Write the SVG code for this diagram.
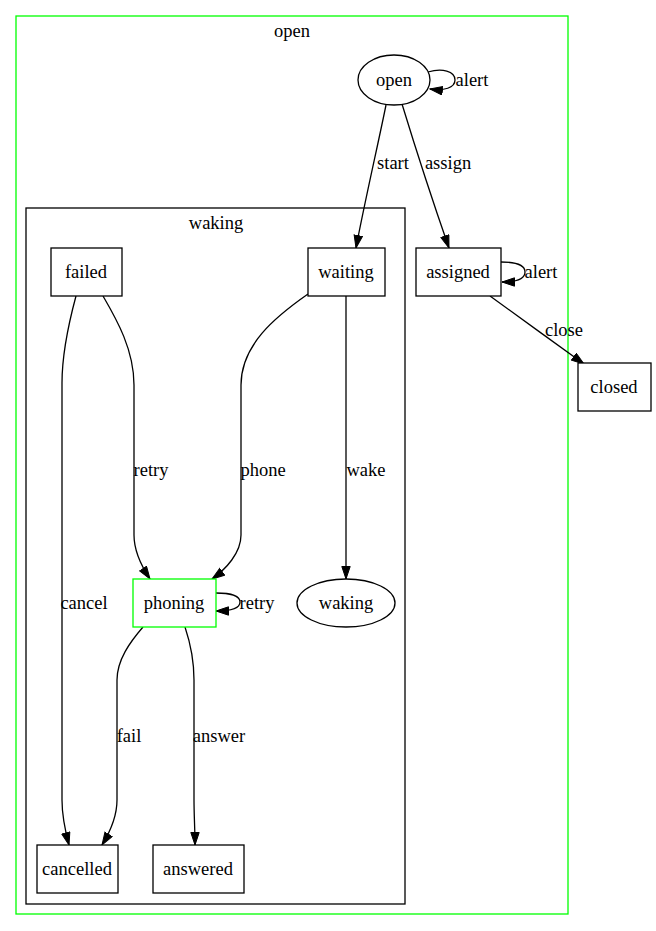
<svg xmlns="http://www.w3.org/2000/svg" width="656" height="931" viewBox="0 0 656 931">
<style>
text{font-family:"Liberation Serif","Times New Roman",serif;font-size:18.5px;fill:#000;text-anchor:middle}
.n{fill:#fff;stroke:#000;stroke-width:1.3}
.g{fill:#fff;stroke:#00ff00;stroke-width:1.3}
.e{fill:none;stroke:#000;stroke-width:1.3}
</style>
<defs>
<marker id="a" markerUnits="userSpaceOnUse" markerWidth="14" markerHeight="10" refX="13" refY="4.7" orient="auto">
<path d="M0.5,0.5 L13,4.7 L0.5,8.9 z" fill="#000" stroke="#000" stroke-width="1"/>
</marker>
</defs>
<rect width="656" height="931" fill="#fff"/>
<g id="cluster-open">
<rect x="16" y="16" width="552" height="898" fill="none" stroke="#00ff00" stroke-width="1.3"/>
<text x="292" y="37">open</text>
</g>
<g id="cluster-waking">
<rect x="26" y="208" width="379" height="696" fill="none" stroke="#000" stroke-width="1.3"/>
<text x="216" y="229">waking</text>
</g>
<g id="edges">
<path class="e" marker-end="url(#a)" d="M428,72 C442,68 455,71 455,80 C455,88 444,91 430,89"/>
<text x="472" y="86">alert</text>
<path class="e" marker-end="url(#a)" d="M386,105 C379,140 364,205 356,248"/>
<text x="393" y="169">start</text>
<path class="e" marker-end="url(#a)" d="M402,104 C413,140 434,205 449,248"/>
<text x="448" y="169">assign</text>
<path class="e" marker-end="url(#a)" d="M501,262 C515,262 525,265 525,272 C525,279 516,282 502,282"/>
<text x="541" y="278">alert</text>
<path class="e" marker-end="url(#a)" d="M490,296 C515,314 556,344 584,364"/>
<text x="564" y="336">close</text>
<path class="e" marker-end="url(#a)" d="M76,296 C69,322 62,355 62,383 L62,800 C62,815 65,830 69,845"/>
<text x="84" y="609">cancel</text>
<path class="e" marker-end="url(#a)" d="M103,296 C117,320 134,350 134,385 L134,535 C134,552 142,567 150,579"/>
<text x="151" y="476">retry</text>
<path class="e" marker-end="url(#a)" d="M308,294 C275,317 241,345 241,385 L241,535 C241,553 226,569 212,579"/>
<text x="263" y="476">phone</text>
<path class="e" marker-end="url(#a)" d="M346,296 L346,579"/>
<text x="366" y="476">wake</text>
<path class="e" marker-end="url(#a)" d="M216,593 C230,593 240,596 240,602 C240,609 230,611 216,611"/>
<text x="257" y="609">retry</text>
<path class="e" marker-end="url(#a)" d="M143,627 C130,642 117,660 117,680 L117,800 C117,815 110,832 102,845"/>
<text x="129" y="742">fail</text>
<path class="e" marker-end="url(#a)" d="M185,627 C191,645 194,660 194,680 L194,800 C194,815 195,830 195,845"/>
<text x="219" y="742">answer</text>
</g>
<g id="node-open"><ellipse class="n" cx="394" cy="80" rx="36" ry="25"/><text x="394" y="86">open</text></g>
<g id="node-assigned"><rect class="n" x="416" y="248" width="85" height="48"/><text x="458" y="278">assigned</text></g>
<g id="node-closed"><rect class="n" x="578" y="363" width="73" height="48"/><text x="614" y="393">closed</text></g>
<g id="node-failed"><rect class="n" x="51" y="248" width="71" height="48"/><text x="86" y="278">failed</text></g>
<g id="node-waiting"><rect class="n" x="308" y="248" width="77" height="48"/><text x="346" y="278">waiting</text></g>
<g id="node-phoning"><rect class="g" x="133" y="579" width="83" height="48"/><text x="174" y="609">phoning</text></g>
<g id="node-waking"><ellipse class="n" cx="346" cy="603" rx="49" ry="24"/><text x="346" y="609">waking</text></g>
<g id="node-cancelled"><rect class="n" x="37" y="845" width="81" height="48"/><text x="77" y="875">cancelled</text></g>
<g id="node-answered"><rect class="n" x="153" y="845" width="91" height="48"/><text x="198" y="875">answered</text></g>
</svg>
